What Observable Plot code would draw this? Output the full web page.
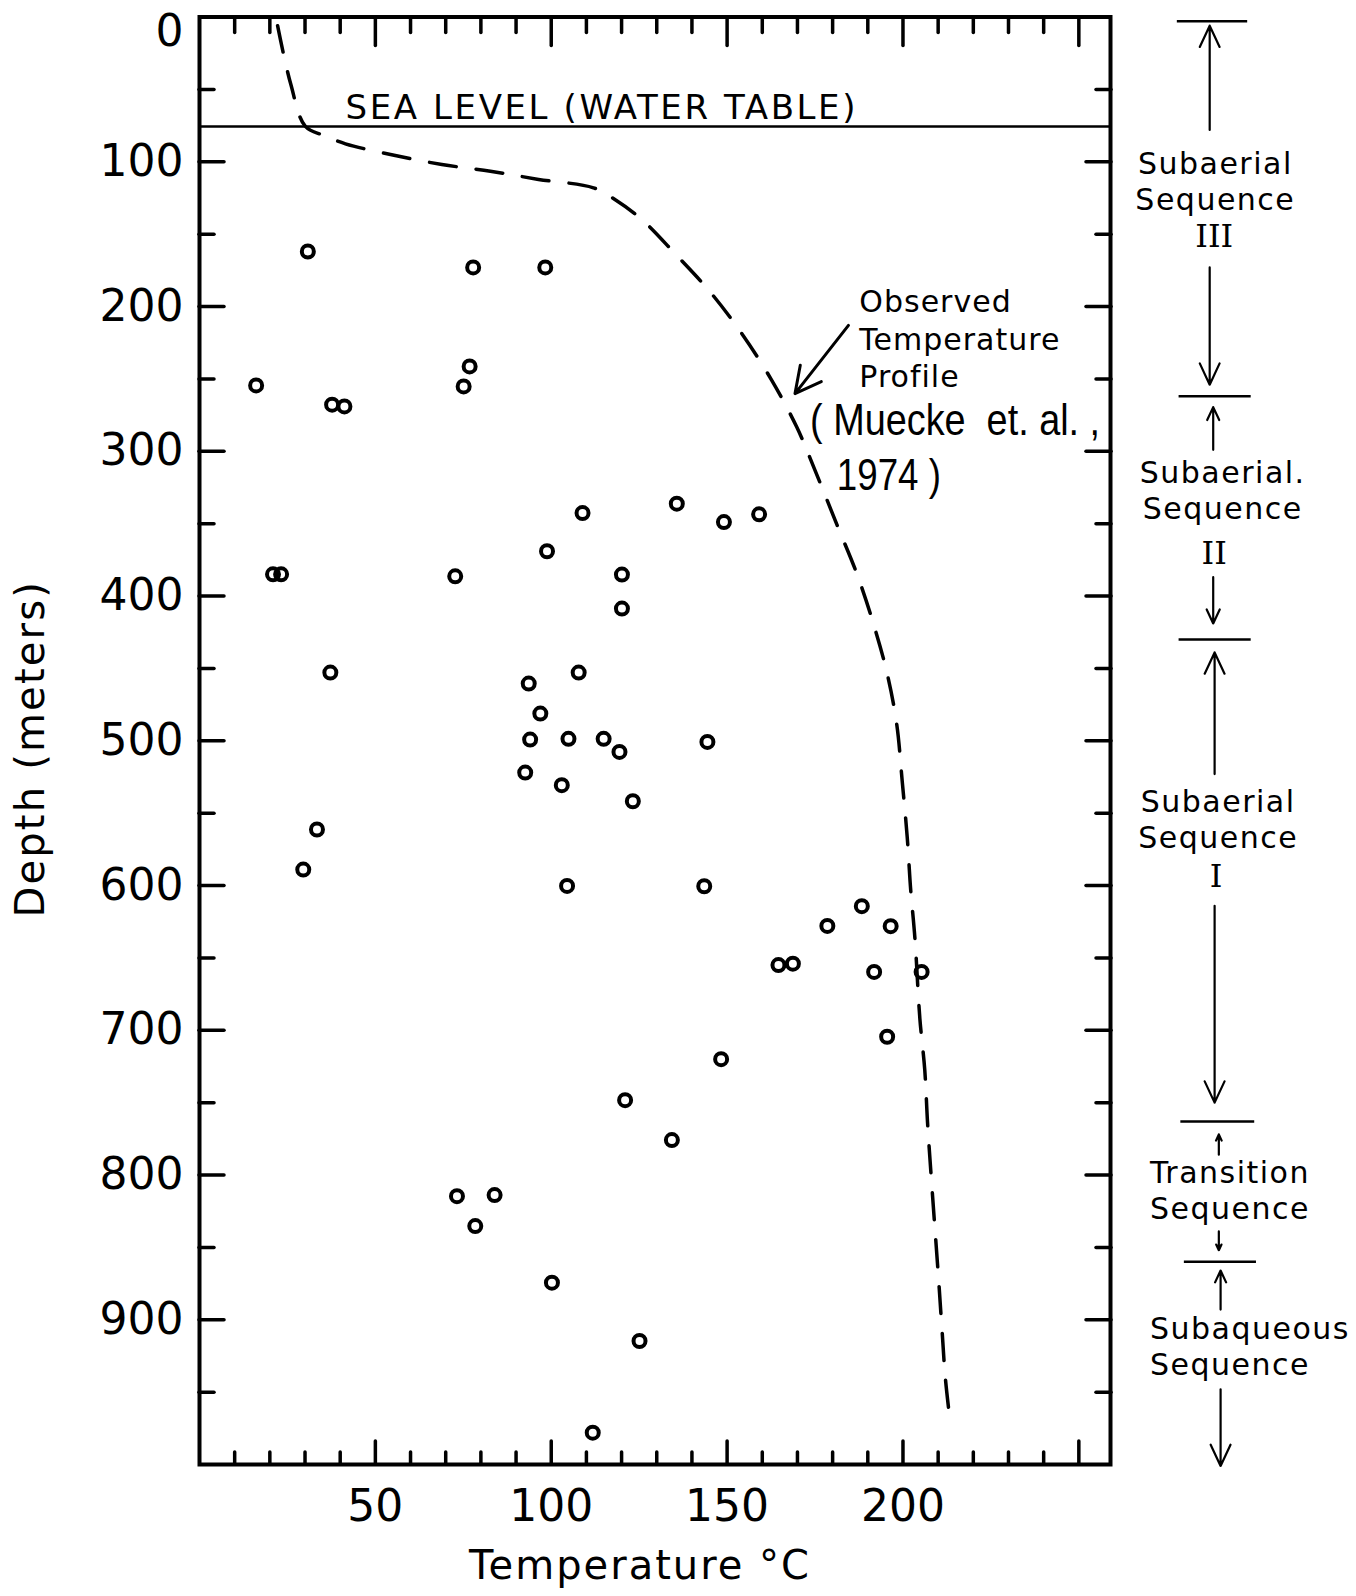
<!DOCTYPE html>
<html>
<head>
<meta charset="utf-8">
<script src="https://cdn.jsdelivr.net/npm/d3@7"></script>
<script src="https://cdn.jsdelivr.net/npm/@observablehq/plot@0.6"></script>
<style>
  body { margin: 0; background: #fff; }
</style>
</head>
<body>
<div id="chart"></div>
<script>
// ---- measured temperatures (°C) and depths (m) ----
const measuredTemp = [30.8, 77.8, 98.3, 16.1, 76.8, 75.1, 37.7, 41.2, 108.9, 98.8, 20.9, 23.2, 72.7, 120.1, 120.1, 37.2, 107.8, 93.6, 96.9, 94.0, 104.9, 114.9, 119.4, 92.6, 103.0, 123.2, 33.4, 29.5, 104.5, 135.7, 149.1, 159.1, 144.4, 143.5, 188.3, 178.5, 196.5, 164.6, 168.7, 191.8, 205.3, 195.5, 148.3, 134.3, 121.0, 73.2, 83.9, 78.4, 100.2, 125.1, 111.8];
const measuredDepth = [162, 173, 173, 254.5, 241.4, 255.2, 267.8, 269, 342.7, 369.1, 385, 385, 386.4, 385.2, 408.7, 452.9, 452.9, 460.5, 481.2, 499.2, 498.7, 498.7, 507.7, 522, 530.7, 541.8, 561.3, 589, 600.3, 336.2, 348.9, 343.6, 500.8, 600.5, 614.3, 627.9, 628.1, 655, 654, 659.7, 659.7, 704.5, 720, 775.9, 748.3, 814.6, 813.9, 835.3, 874.4, 914.7, 978];

// ---- observed temperature profile (Muecke et al., 1974) ----
const profileTemp = [22.2, 25.9, 30.1, 35.3, 41.5, 54.3, 68.9, 82.7, 96.4, 112, 118.2, 125.8, 135.2, 145.2, 154.2, 162.7, 169.8, 175, 181.3, 186.8, 191.1, 195.4, 198.2, 199.8, 201.2, 202.2, 203.4, 204.8, 206.2, 207, 208.4, 210.1, 211.1, 212.1, 213.6];
const profileDepth = [6, 46, 75.6, 81.8, 87.6, 95, 101.9, 106.5, 112.2, 118, 126.2, 140, 163.5, 190, 218.8, 251, 283.3, 313.2, 351.2, 384.1, 415.2, 452.5, 488.1, 528.4, 566.4, 603.2, 636.6, 691.9, 727.6, 764.4, 814, 871, 907, 941.6, 974];

// ---- axis ticks ----
const xTickLabels = [50, 100, 150, 200];
const xMajorTicks = [50, 100, 150, 200, 250];
const xMinorTicks = [10, 20, 30, 40, 60, 70, 80, 90, 110, 120, 130, 140, 160, 170, 180, 190, 210, 220, 230, 240];
const yTopLabel = [0];
const yTickLabels = [100, 200, 300, 400, 500, 600, 700, 800, 900];
const yMajorTicks = [100, 200, 300, 400, 500, 600, 700, 800, 900];
const yMinorTicks = [50, 150, 250, 350, 450, 550, 650, 750, 850, 950];
const xTitle = ["Temperature °C"];
const yTitle = ["Depth (meters)"];

// ---- annotations (anchored in data units: °C, m) ----
const seaLevelDepth = [75.6];
const seaLevelText = ["SEA LEVEL (WATER TABLE)"];
const seaLevelTextTemp = [41.5];
const seaLevelTextDepth = [62.8];
const profileNote = ["Observed\nTemperature\nProfile"];
const profileNoteTemp = [187.6];
const profileNoteDepth = [221.5];
const citation = ["( Muecke  et. al. ,", "1974 )"];
const citationTemp = [173.6, 181.2];
const citationDepth = [279.2, 317.2];
const pointerFromTemp = [184.5], pointerFromDepth = [213];
const pointerToTemp = [169.3], pointerToDepth = [260.2];

// ---- stratigraphic sequences (right-hand column) ----
const seqBoundaryDepth = [3, 262, 430, 763, 860];
const seqBoundaryTemp1 = [278, 278.5, 278.5, 279, 280];
const seqBoundaryTemp2 = [298, 299, 299, 300, 300.5];
const seqNames = ["Subaerial\nSequence", "Subaerial.\nSequence", "Subaerial\nSequence"];
const seqNameTemp = [288.8, 290.9, 289.6];
const seqNameDepth = [112.8, 326.4, 553.7];
const seqNamesLeft = ["Transition\nSequence", "Subaqueous\nSequence"];
const seqNameLeftTemp = [270.2, 270.2];
const seqNameLeftDepth = [810, 917.7];
const seqNumerals = ["III", "II", "I"];
const seqNumeralTemp = [288.5, 288.5, 289];
const seqNumeralDepth = [152.1, 370.7, 594];
const seqArrowTemp = [287.2, 287.2, 288.2, 288.2, 288.6, 288.6, 289.8, 289.8, 290.3, 290.3];
const seqArrowFrom = [78, 173, 299, 387, 523, 614, 786, 839, 893, 948];
const seqArrowTo = [6, 254, 269.5, 419, 439, 750, 772, 852, 866, 1001];

// ---- tables built from the arrays ----
const measured = measuredTemp.map((t, i) => ({t, d: measuredDepth[i]}));
const profile = profileTemp.map((t, i) => ({t, d: profileDepth[i]}));
const boundaries = seqBoundaryDepth.map((d, i) => ({d, t1: seqBoundaryTemp1[i], t2: seqBoundaryTemp2[i]}));
const seqArrows = seqArrowFrom.map((d1, i) => ({t: seqArrowTemp[i], d1, d2: seqArrowTo[i]}));
const pointer = pointerFromTemp.map((t1, i) => ({t1, d1: pointerFromDepth[i], t2: pointerToTemp[i], d2: pointerToDepth[i]}));
const tickStyle = {strokeWidth: 3.5, strokeLinecap: "round", tickFormat: () => "", label: null};

const chart = Plot.plot({
  width: 1356,
  height: 1596,
  marginLeft: 199,
  marginRight: 246,
  marginTop: 16.5,
  marginBottom: 132,
  x: {domain: [0, 259]},
  y: {domain: [0, 1000], reverse: true},
  style: {fontFamily: "DejaVu Sans", fontSize: "30px", color: "black", background: "white"},
  marks: [
    // inward ticks
    Plot.axisX(xMinorTicks, {anchor: "bottom", tickSize: 12, dy: -12, ...tickStyle}),
    Plot.axisX(xMajorTicks, {anchor: "bottom", tickSize: 23, dy: -23, ...tickStyle}),
    Plot.axisX(xMinorTicks, {anchor: "top", tickSize: 15, dy: 15, ...tickStyle}),
    Plot.axisX(xMajorTicks, {anchor: "top", tickSize: 28, dy: 28, ...tickStyle}),
    Plot.axisY(yMinorTicks, {anchor: "left", tickSize: 15, dx: 15, ...tickStyle}),
    Plot.axisY(yMajorTicks, {anchor: "left", tickSize: 25, dx: 25, ...tickStyle}),
    Plot.axisY(yMinorTicks, {anchor: "right", tickSize: 15, dx: -15, ...tickStyle}),
    Plot.axisY(yMajorTicks, {anchor: "right", tickSize: 25, dx: -25, ...tickStyle}),
    // tick labels
    Plot.axisX(xTickLabels, {anchor: "bottom", tickSize: 0, tickPadding: 25, fontSize: 44, label: null}),
    Plot.axisY(yTickLabels, {anchor: "left", tickSize: 0, tickPadding: 16, fontSize: 44, label: null}),
    Plot.axisY(yTopLabel, {anchor: "left", tickSize: 0, tickPadding: 16, dy: 15, fontSize: 44, label: null}),
    // axis titles
    Plot.text(xTitle, {frameAnchor: "bottom", textAnchor: "middle", lineAnchor: "middle", dy: 102, dx: -15, fontSize: 40}),
    Plot.text(yTitle, {frameAnchor: "left", textAnchor: "middle", lineAnchor: "middle", rotate: -90, dx: -168, dy: 8, fontSize: 40}),
    // frame and sea level
    Plot.frame({strokeWidth: 4}),
    Plot.ruleY(seaLevelDepth, {strokeWidth: 2.5}),
    Plot.text(seaLevelText, {x: seaLevelTextTemp, y: seaLevelTextDepth, textAnchor: "start", fontSize: 34}),
    // observed profile
    Plot.line(profile, {x: "t", y: "d", curve: "catmull-rom", strokeWidth: 3.5, strokeDasharray: "27,20"}),
    Plot.text(profileNote, {x: profileNoteTemp, y: profileNoteDepth, textAnchor: "start", fontSize: 30, lineHeight: 1.25}),
    Plot.arrow(pointer, {x1: "t1", y1: "d1", x2: "t2", y2: "d2", strokeWidth: 3, headLength: 24, headAngle: 55}),
    Plot.text(citation, {x: citationTemp, y: citationDepth, textAnchor: "start", fontSize: 44,
      fontFamily: "Liberation Sans Narrow, Liberation Sans, sans-serif"}),
    // measured data
    Plot.dot(measured, {x: "t", y: "d", r: 6, stroke: "black", strokeWidth: 4, fill: "none"}),
    // sequence column
    Plot.ruleY(boundaries, {y: "d", x1: "t1", x2: "t2", strokeWidth: 2.5}),
    Plot.arrow(seqArrows, {x: "t", y1: "d1", y2: "d2", strokeWidth: 2.2, headLength: 16, headAngle: 50}),
    Plot.text(seqNames, {x: seqNameTemp, y: seqNameDepth, fontSize: 30, lineHeight: 1.2}),
    Plot.text(seqNamesLeft, {x: seqNameLeftTemp, y: seqNameLeftDepth, textAnchor: "start", fontSize: 30, lineHeight: 1.2}),
    Plot.text(seqNumerals, {x: seqNumeralTemp, y: seqNumeralDepth, fontSize: 32, fontFamily: "DejaVu Serif"})
  ]
});
document.getElementById("chart").appendChild(chart);

// lettering style: hand-lettered spacing and the condensed citation face
const flat = s => s.replace(/\n/g, "");
const spacing = new Map([
  ...seaLevelText.map(s => [flat(s), "2.6px"]),
  ...profileNote.map(s => [flat(s), "1px"]),
  ...seqNames.map(s => [flat(s), "1.5px"]),
  ...seqNamesLeft.map(s => [flat(s), "1.5px"]),
  ...xTitle.map(s => [s, "2px"]),
  ...yTitle.map(s => [s, "2.2px"])
]);
const condensedWidth = new Map([[citation[0], 290], [citation[1], 104]]);
d3.select(chart).selectAll("text").each(function () {
  const s = this.textContent;
  if (spacing.has(s)) this.style.letterSpacing = spacing.get(s);
  if (condensedWidth.has(s)) {
    this.setAttribute("textLength", condensedWidth.get(s));
    this.setAttribute("lengthAdjust", "spacingAndGlyphs");
  }
});
</script>
</body>
</html>
